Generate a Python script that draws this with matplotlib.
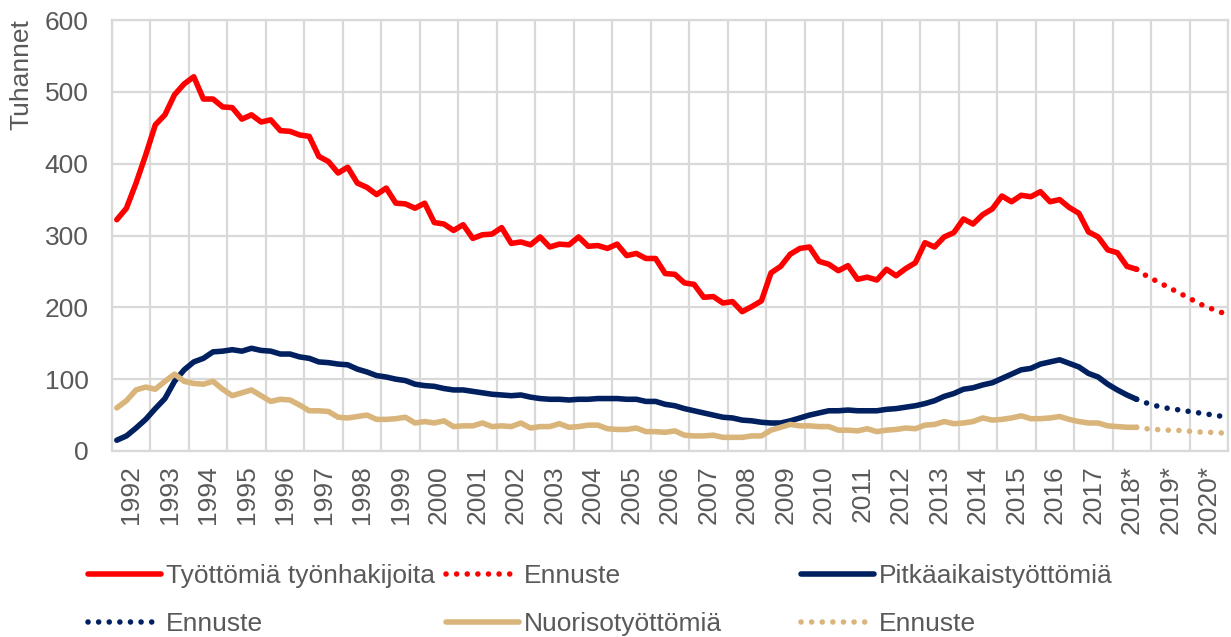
import matplotlib.pyplot as plt
from matplotlib.lines import Line2D

plt.rcParams['font.family'] = ['Liberation Sans', 'DejaVu Sans']

# -----------------------------
# Data (thousands, quarterly 1992Q1 - 2018Q3, forecasts 2018Q3 - 2020Q4)
# -----------------------------
year_labels = ['1992', '1993', '1994', '1995', '1996', '1997', '1998', '1999',
               '2000', '2001', '2002', '2003', '2004', '2005', '2006', '2007',
               '2008', '2009', '2010', '2011', '2012', '2013', '2014', '2015',
               '2016', '2017', '2018*', '2019*', '2020*']

tyottomia = [
    322, 338, 373, 412,   # 1992
    454, 468, 496, 511,   # 1993
    521, 490, 490, 479,   # 1994
    478, 462, 468, 458,   # 1995
    461, 446, 445, 440,   # 1996
    438, 410, 403, 387,   # 1997
    395, 373, 367, 357,   # 1998
    366, 345, 344, 338,   # 1999
    345, 318, 316, 307,   # 2000
    315, 296, 301, 302,   # 2001
    311, 289, 291, 287,   # 2002
    298, 284, 288, 287,   # 2003
    298, 285, 286, 282,   # 2004
    288, 272, 275, 268,   # 2005
    268, 247, 246, 234,   # 2006
    232, 214, 215, 206,   # 2007
    208, 194, 201, 209,   # 2008
    248, 257, 274, 282,   # 2009
    284, 264, 260, 251,   # 2010
    258, 239, 242, 238,   # 2011
    253, 244, 254, 262,   # 2012
    290, 284, 298, 304,   # 2013
    323, 316, 329, 337,   # 2014
    355, 347, 356, 354,   # 2015
    361, 347, 350, 339,   # 2016
    331, 305, 298, 280,   # 2017
    276, 257, 253,        # 2018
]
tyottomia_ennuste = [253, 244, 237, 230, 223, 216, 209, 202, 197, 192]

pitkaaikais = [
    15, 21, 32, 44,
    59, 73, 97, 113,
    124, 129, 138, 139,
    141, 139, 143, 140,
    139, 135, 135, 131,
    129, 124, 123, 121,
    120, 114, 110, 105,
    103, 100, 98, 93,
    91, 90, 87, 85,
    85, 83, 81, 79,
    78, 77, 78, 75,
    73, 72, 72, 71,
    72, 72, 73, 73,
    73, 72, 72, 69,
    69, 65, 63, 59,
    56, 53, 50, 47,
    46, 43, 42, 40,
    39, 39, 42, 46,
    50, 53, 56, 56,
    57, 56, 56, 56,
    58, 59, 61, 63,
    66, 70, 76, 80,
    86, 88, 92, 95,
    101, 107, 113, 115,
    121, 124, 127, 122,
    117, 108, 103, 93,
    85, 78, 72,
]
pitkaaikais_ennuste = [72, 67, 63, 60, 58, 56, 54, 52, 50, 48]

nuoriso = [
    60, 70, 85, 89,
    86, 97, 107, 97,
    94, 93, 97, 86,
    77, 81, 85, 77,
    69, 72, 71, 64,
    56, 56, 55, 47,
    46, 48, 50, 44,
    44, 45, 47, 39,
    41, 39, 42, 34,
    35, 35, 39, 34,
    35, 34, 39, 32,
    34, 34, 38, 33,
    34, 36, 36, 31,
    30, 30, 32, 27,
    27, 26, 28, 22,
    21, 21, 22, 19,
    19, 19, 21, 21,
    29, 33, 37, 35,
    35, 34, 34, 29,
    29, 28, 31, 27,
    29, 30, 32, 31,
    36, 37, 41, 38,
    39, 41, 46, 43,
    44, 46, 49, 45,
    45, 46, 48, 44,
    41, 39, 39, 35,
    34, 33, 33,
]
nuoriso_ennuste = [33, 31, 30, 29, 29, 28, 27, 26, 26, 25]

# -----------------------------
# Styles
# -----------------------------
red = '#FF0000'
navy = '#002060'
tan = '#D9B57B'
grid_color = '#D9D9D9'
text_color = '#595959'
lw = 4.0
dotted = (0, (0.01, 1.9))
fs = 19

fig = plt.figure(figsize=(12.31, 6.37), dpi=100)
ax = fig.add_axes([112 / 1231, 1 - 451 / 637, (1228 - 112) / 1231, (451 - 20) / 637])

x_act = list(range(len(tyottomia)))
start = len(tyottomia) - 1
x_fc = list(range(start, start + len(tyottomia_ennuste)))

series = [
    (tyottomia, tyottomia_ennuste, red),
    (pitkaaikais, pitkaaikais_ennuste, navy),
    (nuoriso, nuoriso_ennuste, tan),
]
for z, (vals, fc, col) in enumerate(series):
    ax.plot(x_act, vals, color=col, lw=lw, solid_joinstyle='round',
            solid_capstyle='round', zorder=3 + z)
    ax.plot(x_fc, fc, color=col, lw=lw, linestyle=dotted,
            dash_capstyle='round', zorder=3 + z)

n_cat = 4 * len(year_labels)
ax.set_xlim(-0.5, n_cat - 0.5)
ax.set_ylim(0, 600)
ax.set_yticks(range(0, 601, 100))
ax.set_xticks([4 * k + 1.5 for k in range(len(year_labels))])
ax.set_xticklabels(year_labels, rotation=90)
ax.set_xticks([4 * k - 0.5 for k in range(len(year_labels) + 1)], minor=True)

ax.grid(which='minor', axis='x', color=grid_color, lw=1.6)
ax.grid(which='major', axis='y', color=grid_color, lw=1.6)
ax.set_axisbelow(True)
for s in ax.spines.values():
    s.set_color(grid_color)
    s.set_linewidth(1.6)

ax.tick_params(axis='both', which='both', length=0, labelsize=fs, labelcolor=text_color)
ax.tick_params(axis='x', pad=10)
ax.tick_params(axis='y', pad=17)

fig.text(21 / 1231, 1 - 75 / 637, 'Tuhannet', rotation=90, ha='center', va='center',
         fontsize=fs, color=text_color)

# -----------------------------
# Legend: three columns, two rows
# -----------------------------
def handle(col, ls):
    if ls == 'solid':
        return Line2D([], [], color=col, lw=lw, solid_capstyle='round')
    return Line2D([], [], color=col, lw=lw, linestyle=dotted, dash_capstyle='round')

legend_cols = [
    ([handle(red, 'solid'), handle(navy, 'dot')], ['Työttömiä työnhakijoita', 'Ennuste'], 88),
    ([handle(red, 'dot'), handle(tan, 'solid')], ['Ennuste', 'Nuorisotyöttömiä'], 446),
    ([handle(navy, 'solid'), handle(tan, 'dot')], ['Pitkäaikaistyöttömiä', 'Ennuste'], 801),
]
for hs, labels, x0 in legend_cols:
    fig.legend(hs, labels, loc='upper left', bbox_to_anchor=(x0 / 1231, 1 - 564 / 637),
               frameon=False, fontsize=fs, handlelength=2.75, handletextpad=0.22,
               labelspacing=0.9, borderpad=0, borderaxespad=0, labelcolor=text_color)

fig.savefig('out.png', dpi=100)
